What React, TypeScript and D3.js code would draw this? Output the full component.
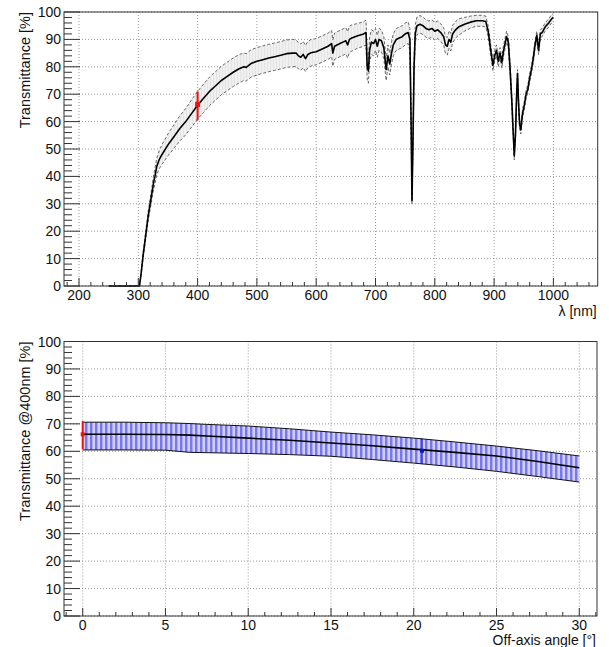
import React from 'react';
import * as d3 from 'd3';

// ---------- data ----------
// [wavelength nm, transmittance %, band half-width %]
const spectrum: [number, number, number][] = [
  [250, 0, 0], [298, 0, 0], [302, 0, 0], [305, 5, 0.5], [308, 11, 1], [311, 16, 1.2],
  [314, 21, 1.5], [317, 26, 1.8], [320, 30, 2], [323, 34, 2.3], [326, 38, 2.6], [328, 40, 2.8],
  [331, 43.5, 3], [335, 46, 3.3], [340, 48, 3.6], [350, 51.5, 4], [360, 54.5, 4.3],
  [370, 57.5, 4.6], [380, 60, 4.8], [390, 63, 5], [400, 66, 5], [410, 68.5, 5.2],
  [420, 71, 5.2], [430, 73, 5.2], [440, 75, 5.2], [450, 76.5, 5.2], [460, 78, 5.2],
  [470, 79.3, 5.2], [478, 80, 5], [482, 79.8, 5], [490, 81.2, 5], [500, 82, 5],
  [510, 82.6, 5], [520, 83.2, 5], [530, 83.7, 5], [540, 84.2, 5], [550, 84.8, 5],
  [560, 85, 5], [566, 85, 4.8], [570, 84, 4.8], [574, 83.5, 4.8], [578, 84.5, 4.8],
  [582, 83, 4.8], [586, 84.5, 4.8], [590, 85, 4.8], [595, 85.3, 4.8], [600, 85.5, 4.8],
  [610, 86.5, 4.8], [620, 87.5, 4.8], [626, 88.5, 4.8], [628, 85, 4.8], [631, 87.5, 4.8],
  [640, 88.5, 4.8], [645, 89, 4.8], [650, 89.5, 4.8], [653, 88, 4.8], [656, 90, 4.8],
  [660, 90.5, 4.8], [670, 91.3, 4.5], [680, 92, 4.5], [684, 92.5, 4.5], [686, 80, 4.5],
  [688, 78.5, 4.5], [690, 86, 4.5], [693, 89, 4.5], [697, 88.5, 4.5], [700, 90, 4],
  [703, 87.5, 4], [706, 90, 4], [710, 89.5, 4], [714, 87, 4], [718, 79, 4], [721, 84, 4],
  [724, 81, 4], [727, 85, 4], [730, 88, 4], [735, 90, 4], [740, 90.5, 4], [745, 91, 4],
  [750, 92, 4], [755, 92.5, 4], [758, 90, 4], [760, 60, 3], [761.5, 31, 1], [763, 50, 2],
  [765, 80, 3], [767, 92, 3.2], [770, 95, 3.2], [775, 95.5, 3.2], [780, 95, 3.2],
  [785, 94, 3.2], [790, 93.5, 3.2], [795, 94, 3.2], [800, 93, 3.2], [805, 93.5, 3.2],
  [810, 92.5, 3.2], [815, 91, 3.2], [818, 88, 3.2], [821, 87.5, 3.2], [824, 90, 3.2],
  [827, 89, 3.2], [830, 92, 3.2], [835, 93.5, 3], [840, 94.5, 3], [850, 95.5, 2.5],
  [860, 96.3, 2.2], [870, 96.8, 2], [880, 96.8, 2], [886, 96.5, 2], [890, 93, 2],
  [895, 85, 2], [898, 80.5, 2], [901, 84, 2], [904, 86, 2], [907, 82, 2], [910, 85, 2],
  [913, 81.5, 2], [916, 86, 2], [919, 89, 2], [921, 91, 2], [924, 89, 2], [927, 79, 2],
  [930, 67, 1.8], [932, 57, 1.5], [934, 47.5, 1.5], [936, 55, 1.5], [938, 70, 1.5],
  [939.5, 77.5, 1.5], [941, 68, 1.5], [943, 59, 1.5], [945, 57, 1.5], [948, 63, 1.5],
  [951, 66, 1.5], [954, 70, 1.5], [957, 72, 1.5], [960, 76, 1.5], [963, 79, 1.5],
  [966, 83, 1.5], [969, 88, 1.5], [972, 91.5, 1.5], [975, 86, 1.5], [978, 92, 1.5],
  [981, 92.5, 1.5], [986, 94.5, 1.5], [992, 96, 1.5], [997, 97.5, 1.5], [1000, 98, 1.5],
];

// measurement at 400 nm: [x, value, low, high]
const pointTop: [number, number, number, number] = [400, 66.3, 60.5, 71];

const angles = [0, 2.5, 5, 6.5, 7.5, 10, 12.5, 15, 17.5, 20, 22.5, 25, 27.5, 30];
const angleCentral = [66.2, 66.2, 66.1, 65.9, 65.6, 64.8, 64, 63, 62, 60.8, 59.6, 58.3, 56.3, 54];
const angleUpper = [70.6, 70.6, 70.4, 70.1, 69.8, 69.2, 68.2, 67, 66, 64.8, 63.4, 61.9, 60.2, 58.3];
const angleLower = [60.5, 60.5, 60.4, 59.6, 59.5, 59.2, 58.8, 58.2, 57, 55.7, 54.3, 52.7, 50.8, 48.8];

const pointRed: [number, number, number, number] = [0, 66.2, 60.8, 71];
const pointBlue: [number, number, number, number] = [20.5, 60.2, 55.3, 64.8];

const yTickValues = [0, 10, 20, 30, 40, 50, 60, 70, 80, 90, 100];
const xTickTop = [200, 300, 400, 500, 600, 700, 800, 900, 1000];
const xTickBottom = [0, 5, 10, 15, 20, 25, 30];

const FONT = '"Liberation Sans", Arial, Helvetica, sans-serif';

type PanelProps = {
  left: number; right: number; top: number; bottom: number;
  xDomain: [number, number];
  xMajor: number[]; xMinorStep: number;
  xTitle: string; yTitle: string; titleOffset: number;
  children: (x: d3.ScaleLinear<number, number>, y: d3.ScaleLinear<number, number>) => React.ReactNode;
};

function Panel(p: PanelProps) {
  const x = d3.scaleLinear().domain(p.xDomain).range([p.left, p.right]);
  const y = d3.scaleLinear().domain([0, 100]).range([p.bottom, p.top]);
  const xMinor = d3.range(Math.ceil(p.xDomain[0] / p.xMinorStep) * p.xMinorStep, p.xDomain[1], p.xMinorStep);
  const yMinor = d3.range(0, 100.01, 2);
  const xTickLen = 8;
  const yTickLen = 16;
  return (
    <g>
      {/* grid */}
      {p.xMajor.map((v) => (
        <line key={'gx' + v} x1={x(v)} x2={x(v)} y1={p.top} y2={p.bottom} stroke="#9a9a9a" strokeWidth={1} strokeDasharray="1 2" />
      ))}
      {yTickValues.map((v) => (
        <line key={'gy' + v} x1={p.left} x2={p.right} y1={y(v)} y2={y(v)} stroke="#9a9a9a" strokeWidth={1} strokeDasharray="1 2" />
      ))}
      {p.children(x, y)}
      {/* frame */}
      <rect x={p.left} y={p.top} width={p.right - p.left} height={p.bottom - p.top} fill="none" stroke="#333" strokeWidth={1} />
      {/* x ticks */}
      {xMinor.map((v) => {
        const major = p.xMajor.some((m) => Math.abs(m - v) < 1e-6);
        return (
          <line key={'tx' + v} x1={x(v)} x2={x(v)} y1={p.bottom} y2={p.bottom - (major ? xTickLen : xTickLen / 2)} stroke="#333" strokeWidth={1} />
        );
      })}
      {/* y ticks */}
      {yMinor.map((v) => {
        const major = Math.abs(v % 10) < 1e-6;
        return (
          <line key={'ty' + v} x1={p.left} x2={p.left + (major ? yTickLen : yTickLen / 2)} y1={y(v)} y2={y(v)} stroke="#333" strokeWidth={1} />
        );
      })}
      {/* labels */}
      {p.xMajor.map((v) => (
        <text key={'lx' + v} x={x(v)} y={p.bottom + 14} textAnchor="middle" fontSize={14} fontFamily={FONT} fill="#111">
          {v}
        </text>
      ))}
      {yTickValues.map((v) => (
        <text key={'ly' + v} x={p.left - 3} y={y(v) + 5} textAnchor="end" fontSize={14} fontFamily={FONT} fill="#111">
          {v}
        </text>
      ))}
      <text x={p.right - 1} y={p.bottom + p.titleOffset} textAnchor="end" fontSize={14} fontFamily={FONT} fill="#111">
        {p.xTitle}
      </text>
      <text transform={`translate(30,${p.top}) rotate(-90)`} textAnchor="end" fontSize={14.5} fontFamily={FONT} fill="#111">
        {p.yTitle}
      </text>
    </g>
  );
}

function ErrPoint({ x, y, d, color, w, s }: { x: d3.ScaleLinear<number, number>; y: d3.ScaleLinear<number, number>; d: [number, number, number, number]; color: string; w: number; s: number }) {
  return (
    <g>
      <line x1={x(d[0])} x2={x(d[0])} y1={y(d[2])} y2={y(d[3])} stroke={color} strokeWidth={w} />
      <rect x={x(d[0]) - s / 2} y={y(d[1]) - s / 2} width={s} height={s} fill={color} />
    </g>
  );
}

export default function App() {
  return (
    <svg width={609} height={647} style={{ position: 'absolute', left: 0, top: 0, background: '#fff' }}>
      <defs>
        <pattern id="bluehatch" width={5} height={6} patternUnits="userSpaceOnUse">
          <rect width={5} height={6} fill="#cfcff8" />
          <rect x={0} width={2} height={6} fill="#7878ec" />
          <rect x={2} width={1} height={6} fill="#a8a8f3" />
        </pattern>
        <pattern id="grayhatch" width={3} height={3} patternUnits="userSpaceOnUse">
          <rect width={3} height={3} fill="#f0f0f0" />
          <rect x={0} width={1} height={3} fill="#e4e4e4" />
        </pattern>
      </defs>
      <rect width={609} height={647} fill="#fff" />
      <Panel
        left={64} right={597.7} top={12} bottom={286}
        xDomain={[174.7, 1074.7]} xMajor={xTickTop} xMinorStep={20}
        xTitle="λ [nm]" yTitle="Transmittance [%]" titleOffset={30}
      >
        {(x, y) => {
          const band = d3.area<[number, number, number]>()
            .x((d) => x(d[0])).y0((d) => y(d[1] - d[2])).y1((d) => y(Math.min(100, d[1] + d[2])));
          const up = d3.line<[number, number, number]>().x((d) => x(d[0])).y((d) => y(d[1] + d[2]));
          const lo = d3.line<[number, number, number]>().x((d) => x(d[0])).y((d) => y(Math.max(0, d[1] - d[2])));
          const mid = d3.line<[number, number, number]>().x((d) => x(d[0])).y((d) => y(d[1]));
          return (
            <g>
              <path d={band(spectrum) || ''} fill="url(#grayhatch)" />
              <path d={up(spectrum) || ''} fill="none" stroke="#444" strokeWidth={0.8} strokeDasharray="3 2" />
              <path d={lo(spectrum) || ''} fill="none" stroke="#444" strokeWidth={0.8} strokeDasharray="3 2" />
              <path d={mid(spectrum) || ''} fill="none" stroke="#000" strokeWidth={1.6} strokeLinejoin="round" />
              <ErrPoint x={x} y={y} d={pointTop} color="#ee1111" w={2} s={5} />
            </g>
          );
        }}
      </Panel>
      <Panel
        left={64} right={597} top={341.5} bottom={616}
        xDomain={[-1.13, 31.07]} xMajor={xTickBottom} xMinorStep={1}
        xTitle="Off-axis angle [°]" yTitle="Transmittance @400nm [%]" titleOffset={28.5}
      >
        {(x, y) => {
          const idx = angles.map((_, i) => i);
          const band = d3.area<number>().x((i) => x(angles[i])).y0((i) => y(angleLower[i])).y1((i) => y(angleUpper[i]));
          const ln = (arr: number[]) => d3.line<number>().x((i) => x(angles[i])).y((i) => y(arr[i]))(idx) || '';
          return (
            <g>
              <path d={band(idx) || ''} fill="url(#bluehatch)" />
              <path d={ln(angleUpper)} fill="none" stroke="#111" strokeWidth={1} />
              <path d={ln(angleLower)} fill="none" stroke="#111" strokeWidth={1} />
              <path d={ln(angleCentral)} fill="none" stroke="#000" strokeWidth={1.6} />
              <ErrPoint x={x} y={y} d={pointRed} color="#ee1111" w={2} s={4} />
              <ErrPoint x={x} y={y} d={pointBlue} color="#1111cc" w={1} s={4} />
            </g>
          );
        }}
      </Panel>
    </svg>
  );
}
